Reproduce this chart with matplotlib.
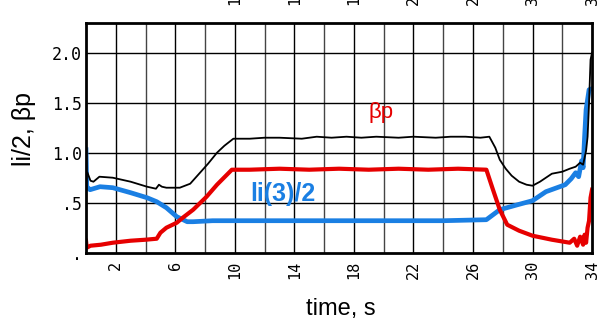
import matplotlib.pyplot as plt
import numpy as np

# time, s
t_black = [0.1, 0.3, 0.5, 0.9, 1.8, 3.0, 4.1, 4.7, 4.9, 5.1, 5.4, 6.3, 7.0, 7.6, 8.2, 8.8, 9.3, 9.9,
           11.0, 12.0, 13.0, 14.5, 15.5, 16.5, 17.5, 18.5, 19.5, 21.0, 22.0, 23.5, 24.5, 25.5, 26.5, 27.1,
           27.5, 27.8, 28.2, 28.6, 29.1, 29.6, 30.0, 30.5, 31.3, 32.0, 32.5, 32.9, 33.2, 33.4, 33.5,
           33.6, 33.7, 33.8, 33.9, 34.0]
li_black = [0.80, 0.72, 0.71, 0.76, 0.75, 0.71, 0.66, 0.64, 0.68, 0.66, 0.65, 0.65, 0.69, 0.79, 0.89, 1.00, 1.07, 1.14,
            1.14, 1.15, 1.15, 1.14, 1.16, 1.15, 1.16, 1.15, 1.16, 1.15, 1.16, 1.15, 1.16, 1.16, 1.15, 1.16,
            1.05, 0.93, 0.84, 0.77, 0.71, 0.68, 0.67, 0.71, 0.79, 0.81, 0.84, 0.86, 0.90, 0.88, 0.95,
            1.02, 1.16, 1.50, 1.93, 2.00]

t_red = [0.0, 0.05, 0.3, 1.0, 1.8, 3.0, 4.0, 4.75, 5.0, 5.4, 6.1, 6.5, 7.2, 8.1, 8.8, 9.8,
         11.0, 13.0, 15.0, 17.0, 19.0, 21.0, 23.0, 25.0, 26.9, 27.3, 27.8, 28.3, 29.1, 30.0, 31.3,
         32.5, 32.8, 33.0, 33.2, 33.4, 33.5, 33.6, 33.7, 33.8, 33.9, 34.0]
bp_red = [0.12, 0.05, 0.07, 0.08, 0.10, 0.12, 0.13, 0.14, 0.20, 0.25, 0.30, 0.35, 0.43, 0.56, 0.68, 0.83,
          0.83, 0.84, 0.83, 0.84, 0.83, 0.84, 0.83, 0.84, 0.83, 0.65, 0.43, 0.28, 0.22, 0.17, 0.13,
          0.10, 0.14, 0.07, 0.16, 0.08, 0.18, 0.10, 0.25, 0.32, 0.55, 0.63]

t_blue = [0.0, 0.05, 0.27, 0.94, 1.8, 3.0, 4.1, 4.75, 5.4, 6.1, 6.8, 7.2, 8.5, 12.0, 16.0, 20.0, 24.0,
          26.9, 27.8, 29.0, 30.0, 30.9, 32.2, 32.6, 32.9, 33.1, 33.3, 33.4, 33.5, 33.6, 33.8, 34.0]
li_blue = [1.03, 0.66, 0.63, 0.66, 0.65, 0.60, 0.55, 0.51, 0.45, 0.36, 0.31, 0.31, 0.32, 0.32, 0.32, 0.32, 0.32,
           0.33, 0.43, 0.48, 0.52, 0.61, 0.68, 0.74, 0.80, 0.76, 0.92, 0.85, 1.16, 1.43, 1.63, 1.64]

x_ticks = [2, 6, 10, 14, 18, 22, 26, 30, 34]
x_labels = ['2', '6', '10', '14', '18', '22', '26', '30', '34']
y_ticks = [0, 0.5, 1.0, 1.5, 2.0]
y_labels = ['.', '.5', '1.0', '1.5', '2.0']

fig = plt.figure(figsize=(6.04, 3.23), dpi=100)
ax = fig.add_axes([0.1424, 0.2176, 0.8378, 0.7121])

# grid: every 2 s, every 0.5 in y
for x in np.arange(2, 34, 2):
    c = 'k' if x in x_ticks else '#444444'
    ax.axvline(x, color=c, linewidth=1.0, zorder=1)
for y in [0.5, 1.0, 1.5, 2.0]:
    ax.axhline(y, color='k', linewidth=1.0, zorder=1)

ax.plot(t_blue, li_blue, color='#1a7fe3', linewidth=3.4, zorder=3)
ax.plot(t_red, bp_red, color='#e60000', linewidth=3.0, zorder=4)
ax.plot(t_black, li_black, color='k', linewidth=1.3, zorder=5)

ax.text(19.8, 1.40, 'βp', color='#e60000', fontsize=16, family='Liberation Sans',
        ha='center', va='center')
ax.text(13.2, 0.59, 'li(3)/2', color='#1a7fe3', fontsize=18, fontweight='bold',
        family='Liberation Sans', ha='center', va='center')

ax.set_xlim(0, 34)
ax.set_ylim(0, 2.3)
ax.set_xticks(x_ticks)
ax.set_xticklabels(x_labels, rotation=90, family='DejaVu Sans Mono', fontsize=11)
ax.set_yticks(y_ticks)
ax.set_yticklabels(y_labels, family='DejaVu Sans Mono', fontsize=12)
ax.tick_params(axis='x', length=0, pad=6)
ax.tick_params(axis='y', length=0, pad=3)

# top labels, mostly off the figure
top = ax.secondary_xaxis('top')
top.set_xticks(x_ticks[2:])
top.set_xticklabels(x_labels[2:], rotation=90, family='DejaVu Sans Mono', fontsize=11)
top.tick_params(length=0, pad=13)
top.spines['top'].set_visible(False)

for s in ax.spines.values():
    s.set_linewidth(2.0)
    s.set_zorder(6)

ax.set_xlabel('time, s', family='Liberation Sans', fontsize=17)
ax.xaxis.set_label_coords(0.504, -0.195)
ax.set_ylabel('li/2, βp', family='Liberation Sans', fontsize=18)
ax.yaxis.set_label_coords(-0.098, 0.54)

fig.savefig('out.png', dpi=100)
